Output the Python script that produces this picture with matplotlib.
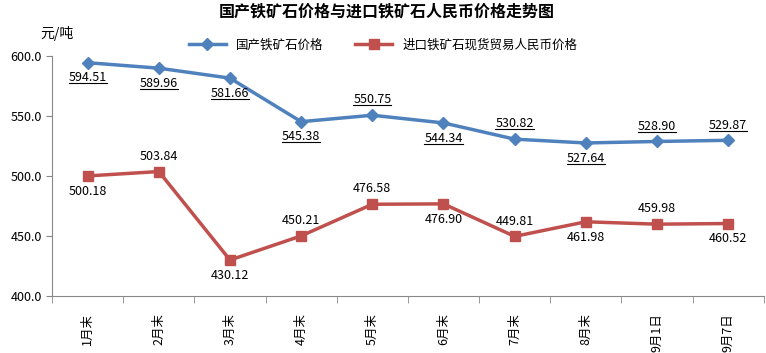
import numpy as np
import matplotlib.pyplot as plt
from matplotlib.lines import Line2D

plt.rcParams['font.family'] = ['Noto Sans CJK SC', 'DejaVu Sans']

# 数据
periods = ["1月末", "2月末", "3月末", "4月末", "5月末", "6月末", "7月末", "8月末", "9月1日", "9月7日"]
domestic = [594.51, 589.96, 581.66, 545.38, 550.75, 544.34, 530.82, 527.64, 528.90, 529.87]
imported = [500.18, 503.84, 430.12, 450.21, 476.58, 476.90, 449.81, 461.98, 459.98, 460.52]
# 标签位置: 1 = 上方, -1 = 下方
dom_side = [-1, -1, -1, -1, 1, -1, 1, -1, 1, 1]
imp_side = [-1, 1, -1, 1, 1, -1, 1, -1, 1, -1]

blue = "#4F81BD"
red = "#C0504D"

fig = plt.figure(figsize=(7.66, 3.53), dpi=100)
ax = fig.add_axes([0.068, 0.161, 0.929, 0.68])

x = np.arange(len(periods))
ax.plot(x, domestic, color=blue, lw=2.5, marker="D", ms=6, label="国产铁矿石价格")
ax.plot(x, imported, color=red, lw=2.5, marker="s", ms=7, label="进口铁矿石现货贸易人民币价格")

ax.set_xlim(-0.5, len(periods) - 0.5)
ax.set_ylim(400, 600)
ax.set_yticks([400, 450, 500, 550, 600])
ax.set_yticklabels(["%.1f" % v for v in [400, 450, 500, 550, 600]], fontsize=9)
ax.set_xticks(x)
ax.set_xticklabels(periods, rotation=90, fontsize=9)
ax.tick_params(axis="x", length=0, pad=12)
ax.set_xticks(np.arange(-0.5, len(periods)), minor=True)
ax.tick_params(axis="x", which="minor", length=5, color="#888888")
ax.tick_params(axis="y", length=4, color="#888888")

for s in ["top", "right"]:
    ax.spines[s].set_visible(False)
ax.spines["left"].set_color("#888888")
ax.spines["bottom"].set_color("#888888")

dom_texts = []
for i, (v, s) in enumerate(zip(domestic, dom_side)):
    t = ax.annotate("%.2f" % v, (i, v), xytext=(0, 11 * s), textcoords="offset points",
                    ha="center", va="center", fontsize=9)
    dom_texts.append(t)
for i, (v, s) in enumerate(zip(imported, imp_side)):
    ax.annotate("%.2f" % v, (i, v), xytext=(0, 11 * s), textcoords="offset points",
                ha="center", va="center", fontsize=9)

fig.suptitle("国产铁矿石价格与进口铁矿石人民币价格走势图", x=0.505, y=0.99, fontsize=11.5, fontweight="bold")
fig.text(0.052, 0.905, "元/吨", fontsize=10, ha="left", va="center")
fig.legend(loc="center", bbox_to_anchor=(0.5, 0.872), ncol=2, frameon=False, fontsize=9,
           handlelength=3, columnspacing=2.5)

# 国产价格标签加下划线
fig.canvas.draw()
r = fig.canvas.get_renderer()
inv = fig.transFigure.inverted()
for t in dom_texts:
    bb = t.get_window_extent(r)
    (x0, y0), (x1, y1) = inv.transform([(bb.x0, bb.y0 + 1), (bb.x1, bb.y0 + 1)])
    fig.add_artist(Line2D([x0, x1], [y0, y1], color="black", lw=0.8, transform=fig.transFigure))

fig.savefig("out.png", dpi=100)
